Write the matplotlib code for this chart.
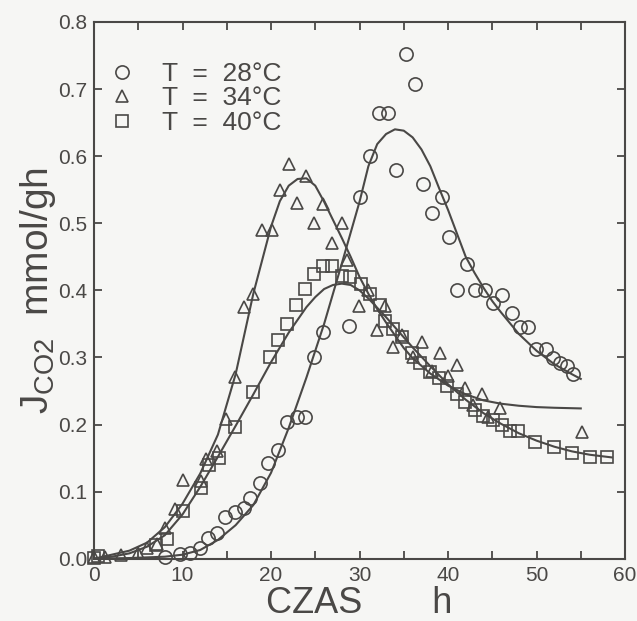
import matplotlib
matplotlib.use("Agg")
import matplotlib.pyplot as plt
import numpy as np

plt.rcParams["font.family"] = ["Liberation Sans", "DejaVu Sans"]
plt.rcParams["mathtext.fontset"] = "custom"
plt.rcParams["mathtext.rm"] = "Liberation Sans"
plt.rcParams["mathtext.it"] = "Liberation Sans"

INK = "#4a4846"
BG = "#f6f6f4"

# ── measured points ────────────────────────────────────────────────
t28 = [8.0, 9.7, 10.8, 12.0, 12.9, 13.9, 14.8, 15.9, 16.9, 17.6, 18.8, 19.7,
       20.8, 21.8, 22.9, 23.8, 24.8, 25.9, 28.8, 30.1, 31.2, 32.2, 33.2, 34.1,
       35.3, 36.3, 37.2, 38.2, 39.3, 40.1, 41.0, 42.2, 43.0, 44.2, 45.1, 46.1,
       47.2, 48.1, 49.0, 49.9, 51.1, 51.9, 52.7, 53.4, 54.1]
j28 = [0.003, 0.007, 0.009, 0.016, 0.031, 0.038, 0.062, 0.070, 0.075, 0.090, 0.113, 0.142,
       0.162, 0.204, 0.211, 0.211, 0.301, 0.338, 0.347, 0.539, 0.600, 0.664, 0.664, 0.579,
       0.752, 0.707, 0.558, 0.516, 0.539, 0.479, 0.400, 0.440, 0.400, 0.400, 0.381, 0.393,
       0.366, 0.345, 0.345, 0.312, 0.312, 0.299, 0.291, 0.287, 0.276]

t34 = [0.0, 1.2, 3.0, 5.0, 6.0, 7.1, 8.0, 9.2, 10.1, 12.1, 12.7, 13.9, 14.9, 15.9,
       16.9, 18.0, 19.0, 20.1, 21.0, 22.0, 22.9, 24.0, 24.8, 25.9, 26.9, 28.0, 28.6,
       29.9, 31.0, 32.0, 32.9, 33.8, 34.8, 36.0, 37.1, 38.2, 39.1, 40.0, 41.0, 41.9,
       42.8, 43.8, 44.5, 45.9, 55.1]
j34 = [0.003, 0.003, 0.005, 0.009, 0.016, 0.022, 0.046, 0.074, 0.117, 0.116, 0.148, 0.160, 0.208, 0.271,
       0.375, 0.394, 0.490, 0.490, 0.549, 0.589, 0.530, 0.570, 0.500, 0.529, 0.470, 0.500, 0.445,
       0.377, 0.400, 0.341, 0.376, 0.315, 0.333, 0.300, 0.323, 0.280, 0.306, 0.272, 0.289, 0.255,
       0.229, 0.246, 0.211, 0.224, 0.189]

t40 = [0.0, 0.5, 7.0, 8.2, 10.1, 12.1, 13.0, 14.1, 15.9, 18.0, 19.9, 20.8, 21.8, 22.8,
       23.8, 24.8, 25.9, 26.9, 28.0, 28.9, 30.2, 31.2, 32.3, 32.9, 33.8, 34.8, 35.9,
       36.8, 38.0, 39.0, 39.9, 41.0, 41.9, 43.0, 44.0, 45.1, 46.1, 47.0, 47.9, 49.8,
       52.0, 54.0, 56.0, 58.0]
j40 = [0.001, 0.004, 0.020, 0.030, 0.071, 0.105, 0.140, 0.150, 0.197, 0.249, 0.300, 0.326, 0.350, 0.378,
       0.402, 0.424, 0.436, 0.436, 0.422, 0.420, 0.410, 0.394, 0.378, 0.355, 0.343, 0.330, 0.307,
       0.292, 0.278, 0.270, 0.258, 0.245, 0.233, 0.222, 0.212, 0.207, 0.200, 0.190, 0.190, 0.174,
       0.166, 0.157, 0.152, 0.152]

# ── fitted curves ──────────────────────────────────────────────────
c28_t = [0, 4, 8, 10, 12, 14, 16, 18, 20, 22, 24, 26, 28, 30, 31, 32, 33, 34, 35,
         36, 37, 38, 39, 40, 41, 42, 43, 44, 45, 46, 48, 50, 52, 54, 55]
c28_j = [0.0, 0.001, 0.003, 0.006, 0.013, 0.028, 0.05, 0.08, 0.128, 0.195, 0.27, 0.35, 0.44, 0.532, 0.585,
         0.618, 0.633, 0.640, 0.638, 0.628, 0.61, 0.585, 0.552, 0.52, 0.485, 0.45, 0.426, 0.404, 0.384,
         0.367, 0.335, 0.31, 0.29, 0.275, 0.268]

c34_t = [0, 2, 4, 6, 8, 10, 12, 14, 16, 18, 20, 21, 22, 23, 24, 25, 26, 27, 28, 29, 30,
         31, 32, 33, 34, 35, 36, 38, 40, 42, 44, 46, 48, 50, 52, 55]
c34_j = [0.0, 0.006, 0.012, 0.024, 0.047, 0.082, 0.127, 0.185, 0.275, 0.395, 0.495, 0.533, 0.556, 0.566,
         0.567, 0.556, 0.532, 0.505, 0.478, 0.45, 0.42, 0.395, 0.372, 0.352, 0.333, 0.314, 0.299, 0.276,
         0.258, 0.245, 0.236, 0.231, 0.228, 0.226, 0.225, 0.224]

c40_t = [0, 2, 4, 6, 8, 10, 12, 14, 16, 18, 20, 22, 24, 25, 26, 27, 28, 29, 30, 31, 32,
         33, 34, 35, 36, 38, 40, 42, 44, 46, 48, 50, 52, 54, 56, 58.5]
c40_j = [0.0, 0.003, 0.008, 0.018, 0.035, 0.066, 0.107, 0.152, 0.198, 0.245, 0.293, 0.337, 0.375, 0.39,
         0.402, 0.408, 0.41, 0.408, 0.40, 0.388, 0.374, 0.36, 0.345, 0.33, 0.315, 0.287, 0.26, 0.237,
         0.217, 0.201, 0.187, 0.176, 0.167, 0.16, 0.155, 0.151]

labels = ["T  =  28°C", "T  =  34°C", "T  =  40°C"]

fig = plt.figure(figsize=(6.37, 6.21), dpi=100, facecolor=BG)
ax = fig.add_axes([0.1476, 0.1003, 0.8336, 0.8643], facecolor=BG)

for ct, cj in [(c28_t, c28_j), (c34_t, c34_j), (c40_t, c40_j)]:
    ax.plot(ct, cj, color=INK, lw=1.5, zorder=2)

mk = dict(ls="none", mfc="none", mec=INK, mew=1.2, clip_on=False, zorder=3)
ax.plot(t28, j28, marker="o", ms=9.5, label=labels[0], **mk)
ax.plot(t34, j34, marker="^", ms=9, label=labels[1], **mk)
ax.plot(t40, j40, marker="s", ms=8.5, label=labels[2], **mk)

ax.set_xlim(0, 60)
ax.set_ylim(0, 0.8)
ax.set_xticks(np.arange(0, 61, 10))
ax.set_xticks(np.arange(0, 61, 5), minor=True)
ax.set_yticks(np.arange(0, 0.81, 0.1))
ax.yaxis.set_major_formatter(matplotlib.ticker.FormatStrFormatter("%.1f"))
ax.tick_params(which="both", direction="in", top=True, right=True, labelright=False,
               length=6, width=1.3, color=INK, labelcolor=INK, labelsize=15, pad=5)
for s in ax.spines.values():
    s.set_color(INK)
    s.set_linewidth(1.5)

ax.set_xlabel("CZAS       h", fontsize=26, color=INK, labelpad=1)
ax.set_ylabel(r"$\mathregular{J_{CO2}}$  mmol/gh", fontsize=28, color=INK, labelpad=0)

leg = ax.legend(loc="upper left", bbox_to_anchor=(-0.012, 0.96), frameon=False,
                fontsize=19, handlelength=1.2, handletextpad=0.9, labelspacing=0.02,
                borderaxespad=0.3)
for txt in leg.get_texts():
    txt.set_color(INK)

plt.savefig("out.png", dpi=100, facecolor=BG)
plt.close()
